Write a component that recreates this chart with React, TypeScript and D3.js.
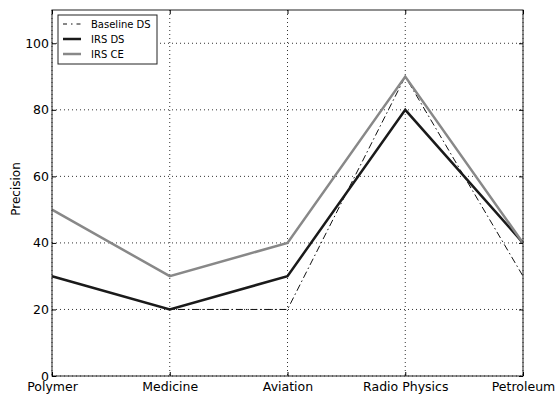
import { useEffect, useRef } from "react";
import * as d3 from "d3";

const categories = ["Polymer", "Medicine", "Aviation", "Radio Physics", "Petroleum"];
const baselineDS = [30, 20, 20, 90, 30];
const irsDS = [30, 20, 30, 80, 40];
const irsCE = [50, 30, 40, 90, 40];
const yTicks = [0, 20, 40, 60, 80, 100];

const series = [
  { name: "Baseline DS", values: baselineDS, color: "#111", width: 1, dash: "7,3,1.5,3" },
  { name: "IRS DS", values: irsDS, color: "#1a1a1a", width: 2.5, dash: null },
  { name: "IRS CE", values: irsCE, color: "#888", width: 2.5, dash: null },
];

const App: React.FC = () => {
  const svgRef = useRef<SVGSVGElement>(null);

  useEffect(() => {
    if (!svgRef.current) return;
    const font = "'DejaVu Sans', sans-serif";
    const width = 556;
    const height = 394;
    const margin = { top: 10, right: 33, bottom: 18, left: 52 };
    const innerWidth = width - margin.left - margin.right;
    const innerHeight = height - margin.top - margin.bottom;

    const root = d3.select(svgRef.current);
    root.selectAll("*").remove();
    root.attr("width", width).attr("height", height);

    const x = d3.scalePoint<string>().domain(categories).range([0, innerWidth]);
    const y = d3.scaleLinear().domain([0, 110]).range([innerHeight, 0]);

    const svg = root.append("g").attr("transform", `translate(${margin.left},${margin.top})`);

    // grid
    svg
      .append("g")
      .selectAll("line")
      .data(categories)
      .join("line")
      .attr("x1", (d) => x(d)!)
      .attr("x2", (d) => x(d)!)
      .attr("y1", 0)
      .attr("y2", innerHeight)
      .attr("stroke", "#333")
      .attr("stroke-width", 1)
      .attr("stroke-dasharray", "1,3");

    svg
      .append("g")
      .selectAll("line")
      .data(yTicks)
      .join("line")
      .attr("x1", 0)
      .attr("x2", innerWidth)
      .attr("y1", (d) => y(d))
      .attr("y2", (d) => y(d))
      .attr("stroke", "#333")
      .attr("stroke-width", 1)
      .attr("stroke-dasharray", "1,3");

    // lines
    const line = d3
      .line<number>()
      .x((_, i) => x(categories[i])!)
      .y((d) => y(d));

    series.forEach((s) => {
      svg
        .append("path")
        .datum(s.values)
        .attr("fill", "none")
        .attr("stroke", s.color)
        .attr("stroke-width", s.width)
        .attr("stroke-dasharray", s.dash)
        .attr("d", line);
    });

    // frame
    svg
      .append("rect")
      .attr("width", innerWidth)
      .attr("height", innerHeight)
      .attr("fill", "none")
      .attr("stroke", "#222")
      .attr("stroke-width", 1);

    // y axis
    const yAxis = svg
      .append("g")
      .call(d3.axisLeft(y).tickValues(yTicks).tickSize(-4).tickPadding(3))
      .call((g) => g.select(".domain").remove());
    yAxis.selectAll("text").attr("font-family", font).attr("font-size", 12.5).attr("fill", "#000");
    svg
      .append("g")
      .attr("transform", `translate(${innerWidth},0)`)
      .call(d3.axisRight(y).tickValues(yTicks).tickSize(-4).tickFormat(() => ""))
      .call((g) => g.select(".domain").remove());

    // x axis
    const xAxis = svg
      .append("g")
      .attr("transform", `translate(0,${innerHeight})`)
      .call(d3.axisBottom(x).tickSize(-4).tickPadding(6))
      .call((g) => g.select(".domain").remove());
    xAxis.selectAll("text").attr("font-family", font).attr("font-size", 12.5).attr("fill", "#000");
    svg
      .append("g")
      .call(d3.axisTop(x).tickSize(-4).tickFormat(() => ""))
      .call((g) => g.select(".domain").remove());

    // y label
    svg
      .append("text")
      .attr("transform", "rotate(-90)")
      .attr("x", -innerHeight / 2 + 4)
      .attr("y", -32)
      .attr("text-anchor", "middle")
      .attr("font-family", font)
      .attr("font-size", 12)
      .attr("fill", "#000")
      .text("Precision");

    // legend
    const legend = svg.append("g").attr("transform", "translate(6,5)");
    legend
      .append("rect")
      .attr("width", 99)
      .attr("height", 49)
      .attr("fill", "#fff")
      .attr("stroke", "#222")
      .attr("stroke-width", 1);
    series.forEach((s, i) => {
      const cy = 9 + i * 15;
      legend
        .append("line")
        .attr("x1", 5)
        .attr("x2", 23)
        .attr("y1", cy)
        .attr("y2", cy)
        .attr("stroke", s.color)
        .attr("stroke-width", s.width)
        .attr("stroke-dasharray", s.dash ? "4,4,1.5,4" : null);
      legend
        .append("text")
        .attr("x", 33)
        .attr("y", cy)
        .attr("dy", "0.35em")
        .attr("font-family", font)
        .attr("font-size", 10)
        .attr("fill", "#000")
        .text(s.name);
    });
  }, []);

  return (
    <svg
      ref={svgRef}
      style={{ position: "absolute", left: 0, top: 0, display: "block", background: "#fff" }}
    ></svg>
  );
};

export default App;
